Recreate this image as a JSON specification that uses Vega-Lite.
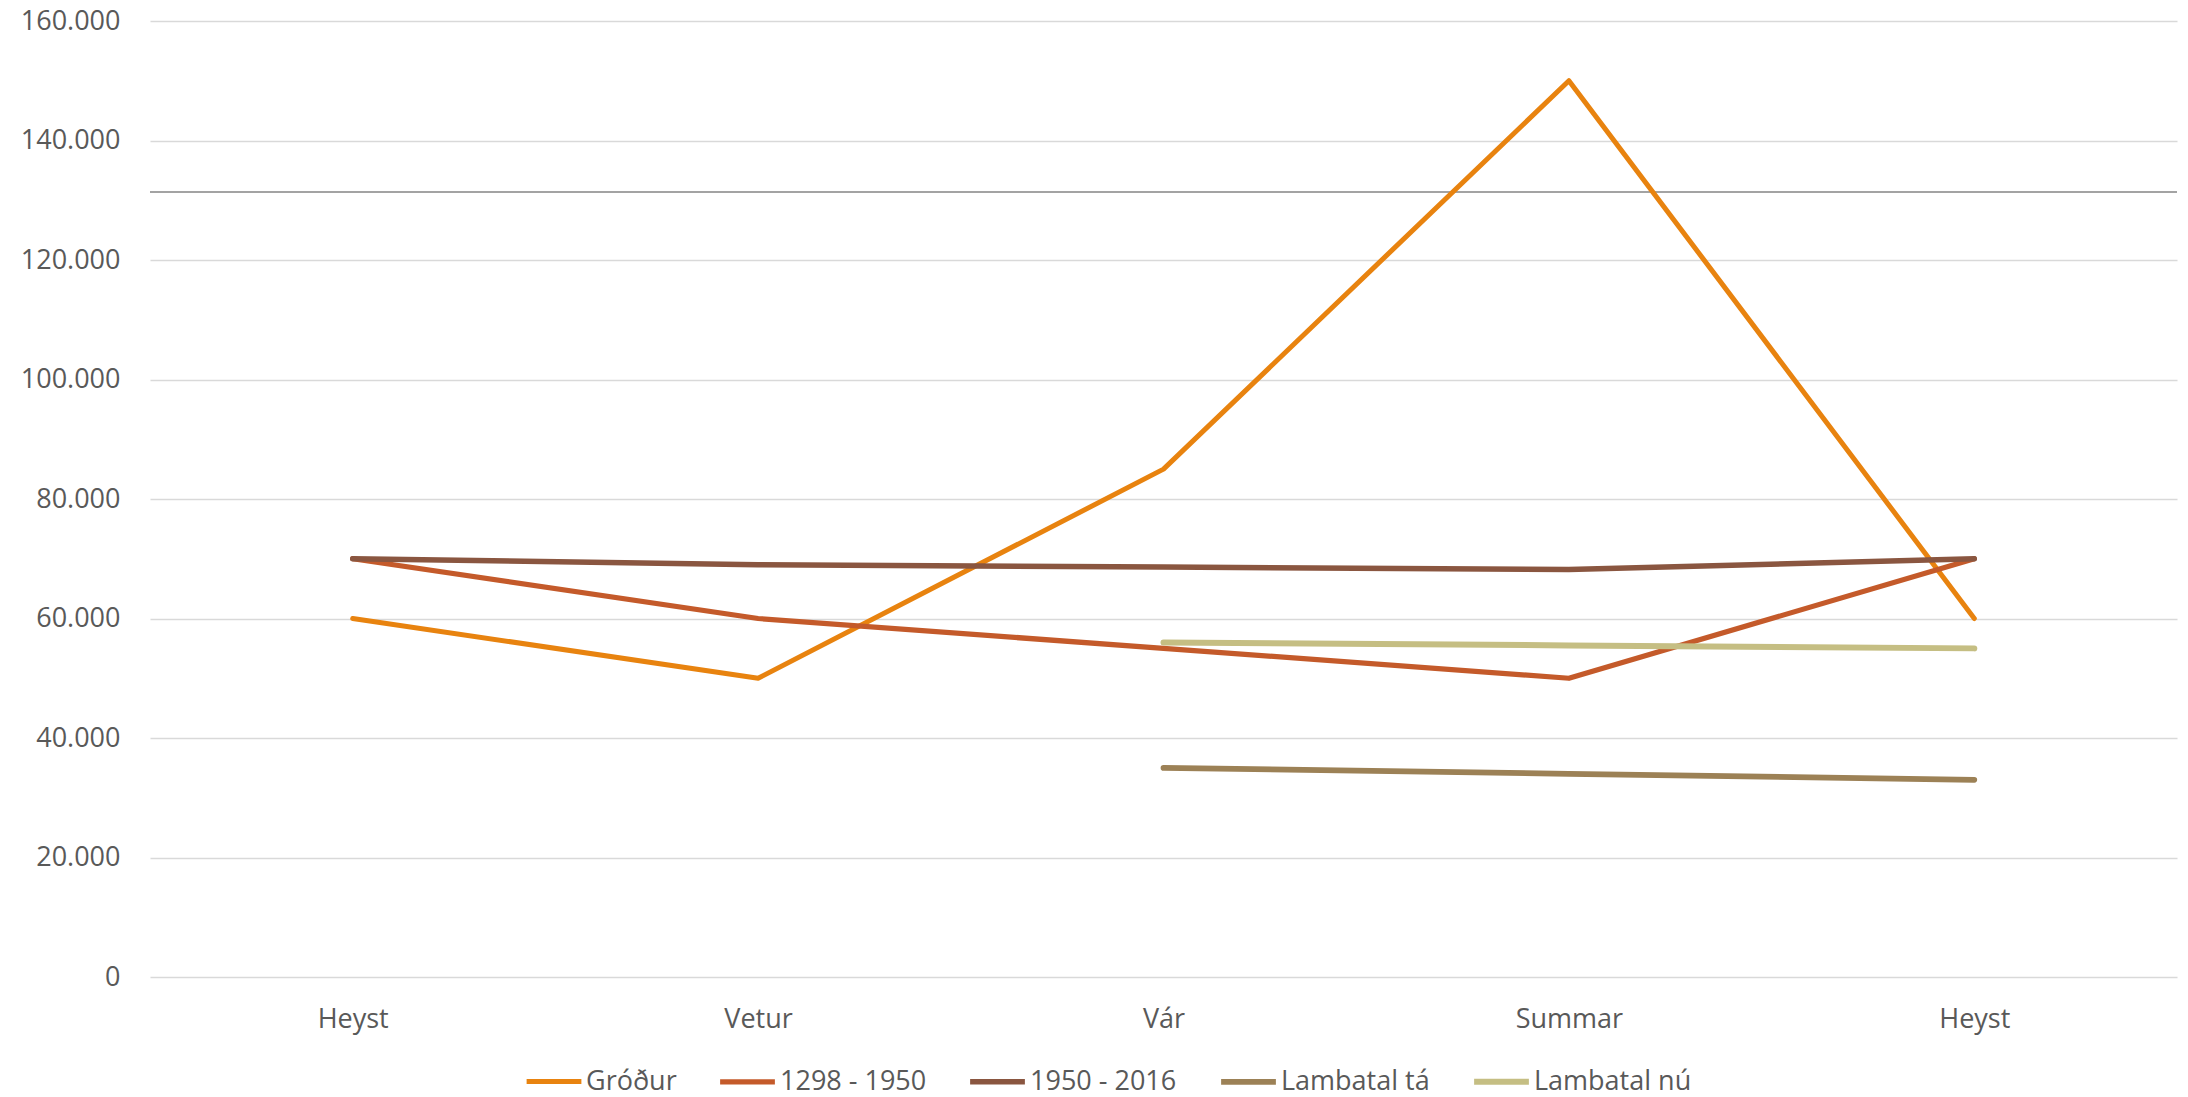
{
  "$schema": "https://vega.github.io/schema/vega-lite/v6.json",
  "width": 2027,
  "height": 956,
  "autosize": "none",
  "padding": {"left": 150, "top": 21, "right": 11, "bottom": 120},
  "background": "white",
  "config": {"view": {"stroke": null}, "font": "Open Sans"},
  "encoding": {
    "y": {
      "field": "v",
      "type": "quantitative",
      "scale": {"domain": [0, 160000], "nice": false},
      "axis": {
        "title": null,
        "values": [0, 20000, 40000, 60000, 80000, 100000, 120000, 140000, 160000],
        "labelExpr": "datum.value == 0 ? '0' : replace(format(datum.value, ','), ',', '.')",
        "domain": false,
        "ticks": false,
        "labelFontSize": 27,
        "labelColor": "#595959",
        "labelPadding": 30,
        "gridColor": "#d9d9d9",
        "gridWidth": 1.5
      }
    }
  },
  "layer": [
    {
      "data": {"values": [{"v": 131400}]},
      "mark": {"type": "rule", "color": "#a3a3a3", "strokeWidth": 2}
    },
    {
      "data": {
        "values": [
          {"s": "Gróður", "i": 0, "season": "Heyst", "v": 60000},
          {"s": "Gróður", "i": 1, "season": "Vetur", "v": 50000},
          {"s": "Gróður", "i": 2, "season": "Vár", "v": 85000},
          {"s": "Gróður", "i": 3, "season": "Summar", "v": 150000},
          {"s": "Gróður", "i": 4, "season": "Heyst", "v": 60000},
          {"s": "1298 - 1950", "i": 0, "season": "Heyst", "v": 70000},
          {"s": "1298 - 1950", "i": 1, "season": "Vetur", "v": 60000},
          {"s": "1298 - 1950", "i": 2, "season": "Vár", "v": 55000},
          {"s": "1298 - 1950", "i": 3, "season": "Summar", "v": 50000},
          {"s": "1298 - 1950", "i": 4, "season": "Heyst", "v": 70000},
          {"s": "1950 - 2016", "i": 0, "season": "Heyst", "v": 70000},
          {"s": "1950 - 2016", "i": 1, "season": "Vetur", "v": 69000},
          {"s": "1950 - 2016", "i": 2, "season": "Vár", "v": 68600},
          {"s": "1950 - 2016", "i": 3, "season": "Summar", "v": 68200},
          {"s": "1950 - 2016", "i": 4, "season": "Heyst", "v": 70000},
          {"s": "Lambatal tá", "i": 2, "season": "Vár", "v": 35000},
          {"s": "Lambatal tá", "i": 3, "season": "Summar", "v": 34000},
          {"s": "Lambatal tá", "i": 4, "season": "Heyst", "v": 33000},
          {"s": "Lambatal nú", "i": 2, "season": "Vár", "v": 56000},
          {"s": "Lambatal nú", "i": 3, "season": "Summar", "v": 55500},
          {"s": "Lambatal nú", "i": 4, "season": "Heyst", "v": 55000}
        ]
      },
      "mark": {"type": "line", "strokeCap": "round", "strokeJoin": "round"},
      "encoding": {
        "x": {
          "field": "i",
          "type": "ordinal",
          "scale": {"type": "point", "padding": 0.5},
          "axis": {
            "title": null,
            "labelExpr": "['Heyst','Vetur','Vár','Summar','Heyst'][datum.value]",
            "labelAngle": 0,
            "domain": false,
            "ticks": false,
            "grid": false,
            "labelFontSize": 27,
            "labelColor": "#595959",
            "labelPadding": 29
          }
        },
        "color": {
          "field": "s",
          "type": "nominal",
          "sort": ["Gróður", "1298 - 1950", "1950 - 2016", "Lambatal tá", "Lambatal nú"],
          "scale": {
            "domain": ["Gróður", "1298 - 1950", "1950 - 2016", "Lambatal tá", "Lambatal nú"],
            "range": ["#E8830F", "#C45A2A", "#8A5640", "#9C8156", "#C5BE83"]
          },
          "legend": {
            "title": null,
            "orient": "none",
            "legendX": 374,
            "legendY": 1030,
            "direction": "horizontal",
            "symbolType": "stroke",
            "symbolSize": 3000,
            "symbolStrokeWidth": 6,
            "labelFontSize": 27,
            "labelColor": "#595959",
            "labelOffset": 2,
            "columnPadding": 32
          }
        },
        "strokeWidth": {
          "field": "s",
          "type": "nominal",
          "scale": {
            "domain": ["Gróður", "1298 - 1950", "1950 - 2016", "Lambatal tá", "Lambatal nú"],
            "range": [5, 6, 6, 6, 6]
          },
          "legend": null
        }
      }
    }
  ]
}
